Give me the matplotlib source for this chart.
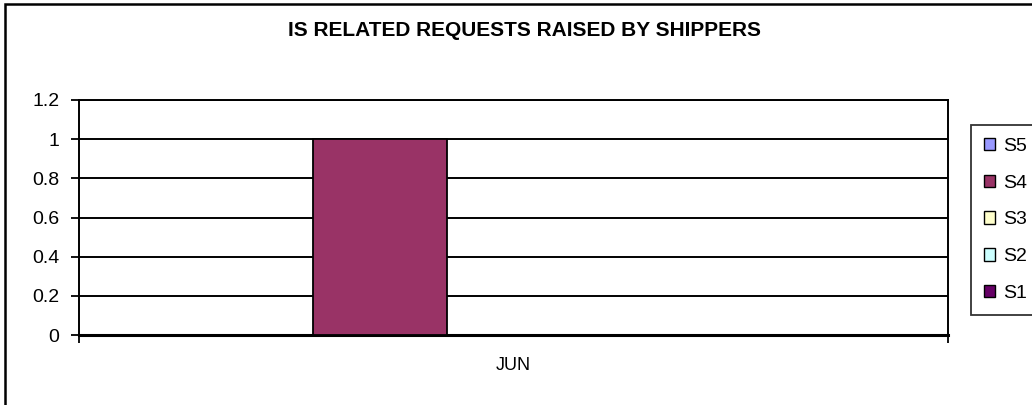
import matplotlib
matplotlib.use("Agg")
import matplotlib.pyplot as plt
from matplotlib.patches import Rectangle, Patch

plt.rcParams['font.family'] = ['Liberation Sans', 'DejaVu Sans']

title = "IS RELATED REQUESTS RAISED BY SHIPPERS"
categories = ["JUN"]
series_names = ["S5", "S4", "S3", "S2", "S1"]
series_values = {"S5": [0], "S4": [1], "S3": [0], "S2": [0], "S1": [0]}
series_colors = {"S5": "#9999FF", "S4": "#993366", "S3": "#FFFFCC", "S2": "#CCFFFF", "S1": "#660066"}
yticks = [0, 0.2, 0.4, 0.6, 0.8, 1, 1.2]
ytick_labels = ["0", "0.2", "0.4", "0.6", "0.8", "1", "1.2"]

W, H = 1032, 405
fig = plt.figure(figsize=(W / 100, H / 100), dpi=100)

# outer chart border
fig.patches.append(Rectangle((5 / W, 0 - 0.05), 1.2, (H - 4) / H + 0.05, transform=fig.transFigure,
                             fill=False, edgecolor="black", linewidth=1.8))

left, right, top, bottom = 79, 948, 100, 335
ax = fig.add_axes([left / W, (H - bottom) / H, (right - left) / W, (bottom - top) / H])

n = len(series_names)
w = 1 / (n + 1.5)
for i, s in enumerate(series_names):
    xs = [c + (i - (n - 1) / 2) * w for c in range(len(categories))]
    vals = series_values[s]
    ax.bar(xs, vals, width=w, color=series_colors[s], edgecolor="black", linewidth=1.3,
           label=s, zorder=3)

ax.set_xlim(-0.5, len(categories) - 0.5)
ax.set_ylim(0, 1.2)
ax.set_yticks(yticks)
ax.set_yticklabels(ytick_labels, fontsize=14)
ax.yaxis.grid(True, color="black", linewidth=1.4, zorder=1)
ax.tick_params(axis="y", direction="out", length=6, width=1.3, pad=8)

ax.set_xticks([c - 0.5 for c in range(len(categories) + 1)])
ax.set_xticklabels([""] * (len(categories) + 1))
ax.tick_params(axis="x", which="major", direction="out", length=6, width=1.3)
ax.set_xticks(list(range(len(categories))), minor=True)
ax.set_xticklabels(categories, minor=True, fontsize=13)
ax.tick_params(axis="x", which="minor", length=0, pad=16)

for sp in ["left", "right", "top"]:
    ax.spines[sp].set_linewidth(1.4)
ax.spines["bottom"].set_linewidth(2.2)

fig.text(525 / W, 1 - 31 / H, title, ha="center", va="center", fontsize=15, fontweight="bold")

handles = [Patch(facecolor=series_colors[s], edgecolor="black", linewidth=1.0, label=s) for s in series_names]
leg = fig.legend(handles=handles, loc="upper left", bbox_to_anchor=(971 / W, 1 - 125 / H),
                 fontsize=14, frameon=True, fancybox=False, edgecolor="black",
                 handlelength=0.6, handleheight=0.6, handletextpad=0.4, labelspacing=1.02,
                 borderpad=0.65, borderaxespad=0)
leg.get_frame().set_linewidth(1.3)

fig.savefig("out.png", dpi=100)
